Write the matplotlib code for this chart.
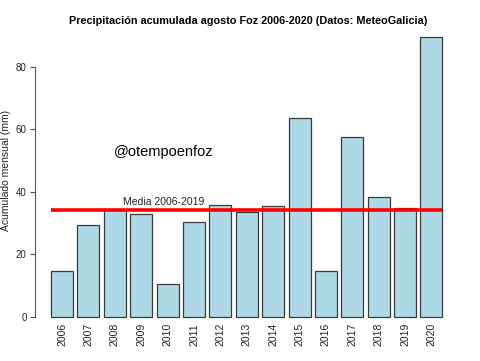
import matplotlib.pyplot as plt
import numpy as np

plt.rcParams['font.family'] = ['Liberation Sans', 'DejaVu Sans']

years = [str(y) for y in range(2006, 2021)]
precip = [14.6, 29.4, 34.3, 32.9, 10.5, 30.4, 35.8, 33.4, 35.5, 63.6,
          14.7, 57.4, 38.3, 34.9, 89.5]
media = 34.1
media_label = "Media 2006-2019"

# R barplot layout: width 1, space 0.2
x = 0.7 + 1.2 * np.arange(len(years))

fig = plt.figure(figsize=(4.81, 3.61), dpi=100)
ax = fig.add_axes([0.0732, 0.0917, 0.8888, 0.8368])

ax.bar(x, precip, width=1.0, color='#add8e6', edgecolor='#3a3a3a', linewidth=0.9)
ax.plot([x[0] - 0.5, x[-1] + 0.5], [media, media], color='#ff0000', lw=2.6, solid_capstyle='butt')
ax.text(5.3, 36.8, media_label, ha='center', va='center', fontsize=7.5, color='#222222')
ax.text(5.3, 52.7, "@otempoenfoz", ha='center', va='center', fontsize=10.5)

ax.set_xlim(-0.52, 18.92)
ax.set_ylim(-3.58, 93.08)
ax.set_xticks(x)
ax.set_xticklabels(years, rotation=90, fontsize=7.5, color='#222222')
ax.tick_params(axis='x', length=0, pad=-3.5)
ax.set_yticks([0, 20, 40, 60, 80])
ax.tick_params(axis='y', length=3.6, width=0.8, color='#555555', labelsize=7, labelcolor='#222222', pad=2.5)
for s in ['top', 'right', 'bottom']:
    ax.spines[s].set_visible(False)
ax.spines['left'].set_bounds(0, 80)
ax.spines['left'].set_color('#555555')
ax.spines['left'].set_linewidth(0.8)
ax.set_ylabel("Acumulado mensual (mm)", fontsize=7.5, color='#222222')
ax.yaxis.set_label_coords(-0.0566, 0.52)

fig.suptitle("Precipitación acumulada agosto Foz 2006-2020 (Datos: MeteoGalicia)",
             fontsize=7.8, fontweight='bold', x=0.517, y=0.957)

fig.savefig("out.png", dpi=100)
